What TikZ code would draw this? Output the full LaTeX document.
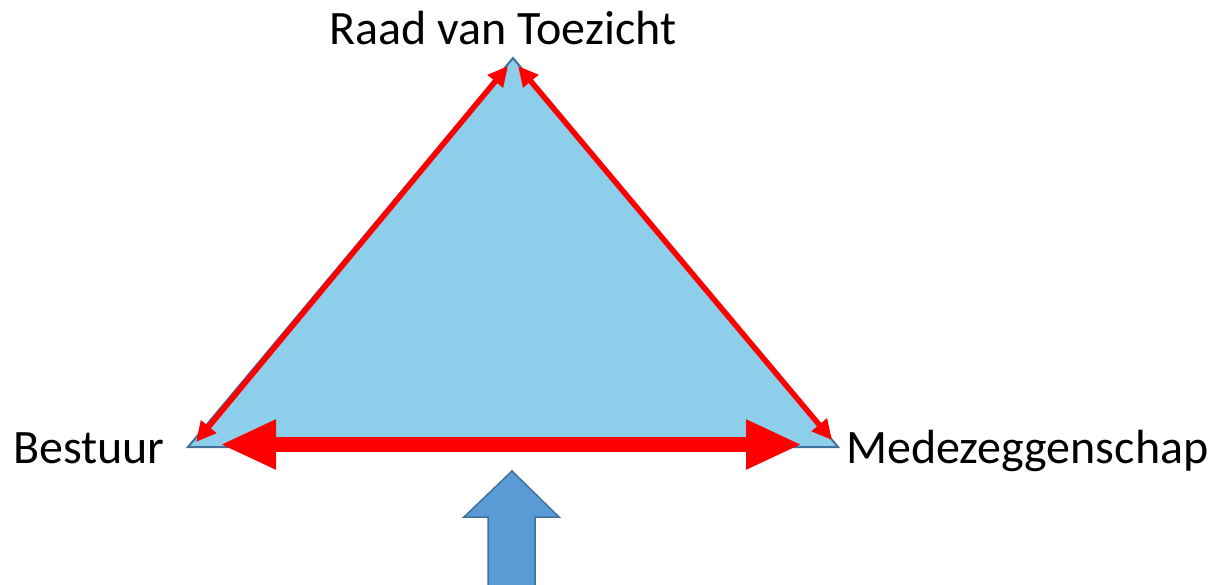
\documentclass[tikz,border=0pt]{standalone}
\usepackage{fontspec}
\setmainfont{Carlito}
\usetikzlibrary{arrows.meta}
\definecolor{vlak}{HTML}{8DCFEA}
\definecolor{rand}{HTML}{41719C}
\definecolor{pijlblauw}{HTML}{5B9BD5}
\tikzset{
  label/.style={font=\fontsize{48}{57}\selectfont, inner sep=0pt},
  relatie/.style={red, line width=5.5, {Triangle[length=20,width=19]}-{Triangle[length=20,width=19]}},
  overleg/.style={red, line width=15, {Triangle[length=56,width=46]}-{Triangle[length=56,width=46]}},
}

\begin{document}
\begin{tikzpicture}[x=1pt,y=-1pt]
    \useasboundingbox (0,0) rectangle (1212,584);
    % hoekpunten
    \coordinate (top) at (513,58);
    \coordinate (links) at (188,447);
    \coordinate (rechts) at (838,447);
    \draw[rand, fill=vlak, line width=2] (top)--(links)--(rechts)--cycle;
    % pijlen langs de zijden
    \coordinate (lt) at (508,66);
    \coordinate (lb) at (196,442);
    \coordinate (rt) at (518,66);
    \coordinate (rb) at (832,440);
    \coordinate (bl) at (220,444.5);
    \coordinate (br) at (802,444.5);
    \draw[relatie] (lt)--(lb);
    \draw[relatie] (rt)--(rb);
    \draw[overleg] (bl)--(br);
    % blokpijl omhoog
    \draw[rand, fill=pijlblauw, line width=1.5] (512,471)--(559,517)--(535,517)--(535,590)
        --(488,590)--(488,517)--(464,517)--cycle;
    \node[label, anchor=base] (rvt) at (503,44) {Raad van Toezicht};
    \node[label, anchor=base west] (bst) at (13,463) {Bestuur};
    \node[label, anchor=base west] (mzs) at (846,463) {Medezeggenschap};
\end{tikzpicture}
\end{document}
